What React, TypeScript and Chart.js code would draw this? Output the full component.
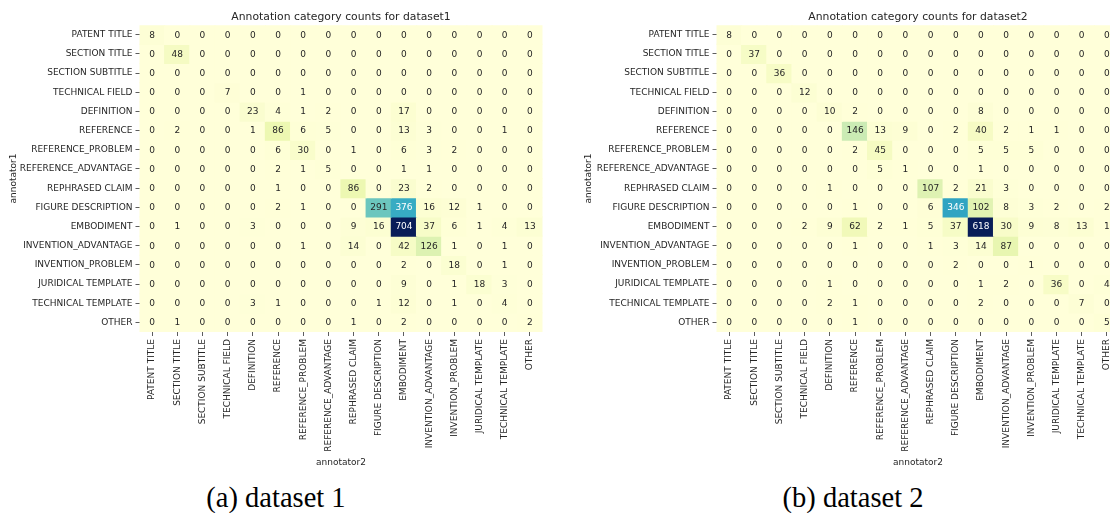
import React, { useEffect, useRef } from "react";
import { Chart, registerables } from "chart.js";

Chart.register(...registerables);

const categories: string[] = [
  "PATENT TITLE",
  "SECTION TITLE",
  "SECTION SUBTITLE",
  "TECHNICAL FIELD",
  "DEFINITION",
  "REFERENCE",
  "REFERENCE_PROBLEM",
  "REFERENCE_ADVANTAGE",
  "REPHRASED CLAIM",
  "FIGURE DESCRIPTION",
  "EMBODIMENT",
  "INVENTION_ADVANTAGE",
  "INVENTION_PROBLEM",
  "JURIDICAL TEMPLATE",
  "TECHNICAL TEMPLATE",
  "OTHER",
];

// rows = annotator1, columns = annotator2
const countsDataset1: number[][] = [
  [8, 0, 0, 0, 0, 0, 0, 0, 0, 0, 0, 0, 0, 0, 0, 0],
  [0, 48, 0, 0, 0, 0, 0, 0, 0, 0, 0, 0, 0, 0, 0, 0],
  [0, 0, 0, 0, 0, 0, 0, 0, 0, 0, 0, 0, 0, 0, 0, 0],
  [0, 0, 0, 7, 0, 0, 1, 0, 0, 0, 0, 0, 0, 0, 0, 0],
  [0, 0, 0, 0, 23, 4, 1, 2, 0, 0, 17, 0, 0, 0, 0, 0],
  [0, 2, 0, 0, 1, 86, 6, 5, 0, 0, 13, 3, 0, 0, 1, 0],
  [0, 0, 0, 0, 0, 6, 30, 0, 1, 0, 6, 3, 2, 0, 0, 0],
  [0, 0, 0, 0, 0, 2, 1, 5, 0, 0, 1, 1, 0, 0, 0, 0],
  [0, 0, 0, 0, 0, 1, 0, 0, 86, 0, 23, 2, 0, 0, 0, 0],
  [0, 0, 0, 0, 0, 2, 1, 0, 0, 291, 376, 16, 12, 1, 0, 0],
  [0, 1, 0, 0, 3, 0, 0, 0, 9, 16, 704, 37, 6, 1, 4, 13],
  [0, 0, 0, 0, 0, 0, 1, 0, 14, 0, 42, 126, 1, 0, 1, 0],
  [0, 0, 0, 0, 0, 0, 0, 0, 0, 0, 2, 0, 18, 0, 1, 0],
  [0, 0, 0, 0, 0, 0, 0, 0, 0, 0, 9, 0, 1, 18, 3, 0],
  [0, 0, 0, 0, 3, 1, 0, 0, 0, 1, 12, 0, 1, 0, 4, 0],
  [0, 1, 0, 0, 0, 0, 0, 0, 1, 0, 2, 0, 0, 0, 0, 2],
];

const countsDataset2: number[][] = [
  [8, 0, 0, 0, 0, 0, 0, 0, 0, 0, 0, 0, 0, 0, 0, 0],
  [0, 37, 0, 0, 0, 0, 0, 0, 0, 0, 0, 0, 0, 0, 0, 0],
  [0, 0, 36, 0, 0, 0, 0, 0, 0, 0, 0, 0, 0, 0, 0, 0],
  [0, 0, 0, 12, 0, 0, 0, 0, 0, 0, 0, 0, 0, 0, 0, 0],
  [0, 0, 0, 0, 10, 2, 0, 0, 0, 0, 8, 0, 0, 0, 0, 0],
  [0, 0, 0, 0, 0, 146, 13, 9, 0, 2, 40, 2, 1, 1, 0, 0],
  [0, 0, 0, 0, 0, 2, 45, 0, 0, 0, 5, 5, 5, 0, 0, 0],
  [0, 0, 0, 0, 0, 0, 5, 1, 0, 0, 1, 0, 0, 0, 0, 0],
  [0, 0, 0, 0, 1, 0, 0, 0, 107, 2, 21, 3, 0, 0, 0, 0],
  [0, 0, 0, 0, 0, 1, 0, 0, 6, 346, 102, 8, 3, 2, 0, 2],
  [0, 0, 0, 2, 9, 62, 2, 1, 5, 37, 618, 30, 9, 8, 13, 1],
  [0, 0, 0, 0, 0, 1, 0, 0, 1, 3, 14, 87, 0, 0, 0, 0],
  [0, 0, 0, 0, 0, 0, 0, 0, 0, 2, 0, 0, 1, 0, 0, 0],
  [0, 0, 0, 0, 1, 0, 0, 0, 0, 0, 1, 2, 0, 36, 0, 4],
  [0, 0, 0, 0, 2, 1, 0, 0, 0, 0, 2, 0, 0, 0, 7, 0],
  [0, 0, 0, 0, 0, 1, 0, 0, 0, 0, 0, 0, 0, 0, 0, 5],
];

const titles: string[] = [
  "Annotation category counts for dataset1",
  "Annotation category counts for dataset2",
];
const captions: string[] = ["(a) dataset 1", "(b) dataset 2"];
const yAxisTitle = "annotator1";
const xAxisTitle = "annotator2";

const YLGNBU: number[][] = [
  [255, 255, 217],
  [237, 248, 177],
  [199, 233, 180],
  [127, 205, 187],
  [65, 182, 196],
  [29, 145, 192],
  [34, 94, 168],
  [37, 52, 148],
  [8, 29, 88],
];

function cmap(t: number): number[] {
  const tt = Math.max(0, Math.min(1, t));
  const pos = tt * (YLGNBU.length - 1);
  const i = Math.min(Math.floor(pos), YLGNBU.length - 2);
  const f = pos - i;
  const a = YLGNBU[i];
  const b = YLGNBU[i + 1];
  return [0, 1, 2].map((k) => a[k] + (b[k] - a[k]) * f);
}

function rgbStr(c: number[]): string {
  return `rgb(${Math.round(c[0])},${Math.round(c[1])},${Math.round(c[2])})`;
}

function luminance(c: number[]): number {
  const lin = c.map((v) => {
    const s = v / 255;
    return s <= 0.03928 ? s / 12.92 : Math.pow((s + 0.055) / 1.055, 2.4);
  });
  return 0.2126 * lin[0] + 0.7152 * lin[1] + 0.0722 * lin[2];
}

const FONT = "'DejaVu Sans', sans-serif";
const TEXT = "#262626";

type HeatProps = {
  counts: number[][];
  title: string;
  left: number;
  width: number;
  height: number;
  yAxisWidth: number;
  padRight: number;
  yTitlePad: number;
};

function Heatmap({ counts, title, left, width, height, yAxisWidth, padRight, yTitlePad }: HeatProps) {
  const ref = useRef<HTMLCanvasElement | null>(null);

  useEffect(() => {
    if (!ref.current) return;
    const vmax = Math.max(...counts.map((r) => Math.max(...r)));
    const datasets = counts.map((row, r) => ({
      label: categories[r],
      data: row.map(() => [r - 0.5, r + 0.5]),
      backgroundColor: row.map((v) => rgbStr(cmap(v / vmax))),
      borderWidth: 0,
      inflateAmount: 0.6,
      barPercentage: 1,
      categoryPercentage: 1,
      grouped: false,
    }));

    const cellText = {
      id: "cellText",
      afterDatasetsDraw(chart: any) {
        const ctx = chart.ctx;
        ctx.save();
        ctx.font = `9px ${FONT}`;
        ctx.textAlign = "center";
        ctx.textBaseline = "middle";
        counts.forEach((row, r) => {
          const meta = chart.getDatasetMeta(r);
          row.forEach((v, c) => {
            const el: any = meta.data[c];
            if (!el) return;
            const col = cmap(v / vmax);
            ctx.fillStyle = luminance(col) > 0.408 ? TEXT : "#ffffff";
            const cy = (el.y + el.base) / 2;
            ctx.fillText(String(v), el.x, cy + 0.5);
          });
        });
        ctx.restore();
      },
    };

    const chart = new Chart(ref.current, {
      type: "bar",
      data: { labels: categories, datasets: datasets as any },
      options: {
        animation: false,
        responsive: false,
        maintainAspectRatio: false,
        layout: { padding: { left: 0, right: padRight, top: 0, bottom: 0 } },
        plugins: {
          legend: { display: false },
          tooltip: { enabled: false },
          title: {
            display: true,
            fullSize: false,
            text: title,
            color: TEXT,
            font: { family: FONT, size: 10.8, weight: "normal" },
            padding: { top: 11, bottom: 1.2 },
          },
        },
        scales: {
          x: {
            type: "category",
            offset: true,
            grid: { offset: false, drawOnChartArea: false, drawTicks: true, tickLength: 4, color: "#333", lineWidth: 0.8 },
            border: { display: false },
            ticks: {
              autoSkip: false,
              minRotation: 90,
              maxRotation: 90,
              padding: 3,
              color: TEXT,
              font: { family: FONT, size: 9 },
            },
            title: {
              display: true,
              text: xAxisTitle,
              color: TEXT,
              font: { family: FONT, size: 9 },
              padding: { top: 0, bottom: 12 },
            },
            afterFit: (scale: any) => {
              scale.height = height - 332;
            },
          },
          y: {
            type: "linear",
            min: -0.5,
            max: 15.5,
            reverse: true,
            grid: { drawOnChartArea: false, drawTicks: true, tickLength: 4, color: "#333", lineWidth: 0.8 },
            border: { display: false },
            afterBuildTicks: (scale: any) => {
              scale.ticks = categories.map((_, i) => ({ value: i }));
            },
            ticks: {
              autoSkip: false,
              padding: 3,
              color: TEXT,
              font: { family: FONT, size: 9 },
              callback: (v: any) => categories[Number(v)] ?? "",
            },
            title: {
              display: true,
              text: yAxisTitle,
              color: TEXT,
              font: { family: FONT, size: 9 },
              padding: { top: yTitlePad, bottom: 0 },
            },
            afterFit: (scale: any) => {
              scale.width = yAxisWidth;
            },
          },
        },
      } as any,
      plugins: [cellText],
    });
    return () => chart.destroy();
  }, [counts, title, width, height, yAxisWidth, padRight, yTitlePad]);

  return (
    <canvas
      ref={ref}
      width={width}
      height={height}
      style={{ position: "absolute", left, top: 0, width, height }}
    />
  );
}

export default function App() {
  const H = 480;
  return (
    <div
      style={{
        position: "fixed",
        left: 0,
        top: 0,
        width: 1110,
        height: 513,
        overflow: "hidden",
        background: "#ffffff",
      }}
    >
      <Heatmap
        counts={countsDataset1}
        title={titles[0]}
        left={0}
        width={555}
        height={H}
        yAxisWidth={139.5}
        padRight={12.5}
        yTitlePad={8.6}
      />
      <Heatmap
        counts={countsDataset2}
        title={titles[1]}
        left={555}
        width={575}
        height={H}
        yAxisWidth={161.5}
        padRight={10.5}
        yTitlePad={28.6}
      />
      {captions.map((c, i) => (
        <div
          key={c}
          style={{
            position: "absolute",
            left: i === 0 ? 276 - 150 : 853 - 150,
            width: 300,
            top: 482,
            textAlign: "center",
            fontFamily: "'Liberation Serif', 'Times New Roman', serif",
            fontSize: 28.5,
            lineHeight: "normal",
            color: "#000",
            whiteSpace: "nowrap",
          }}
        >
          {c}
        </div>
      ))}
    </div>
  );
}
